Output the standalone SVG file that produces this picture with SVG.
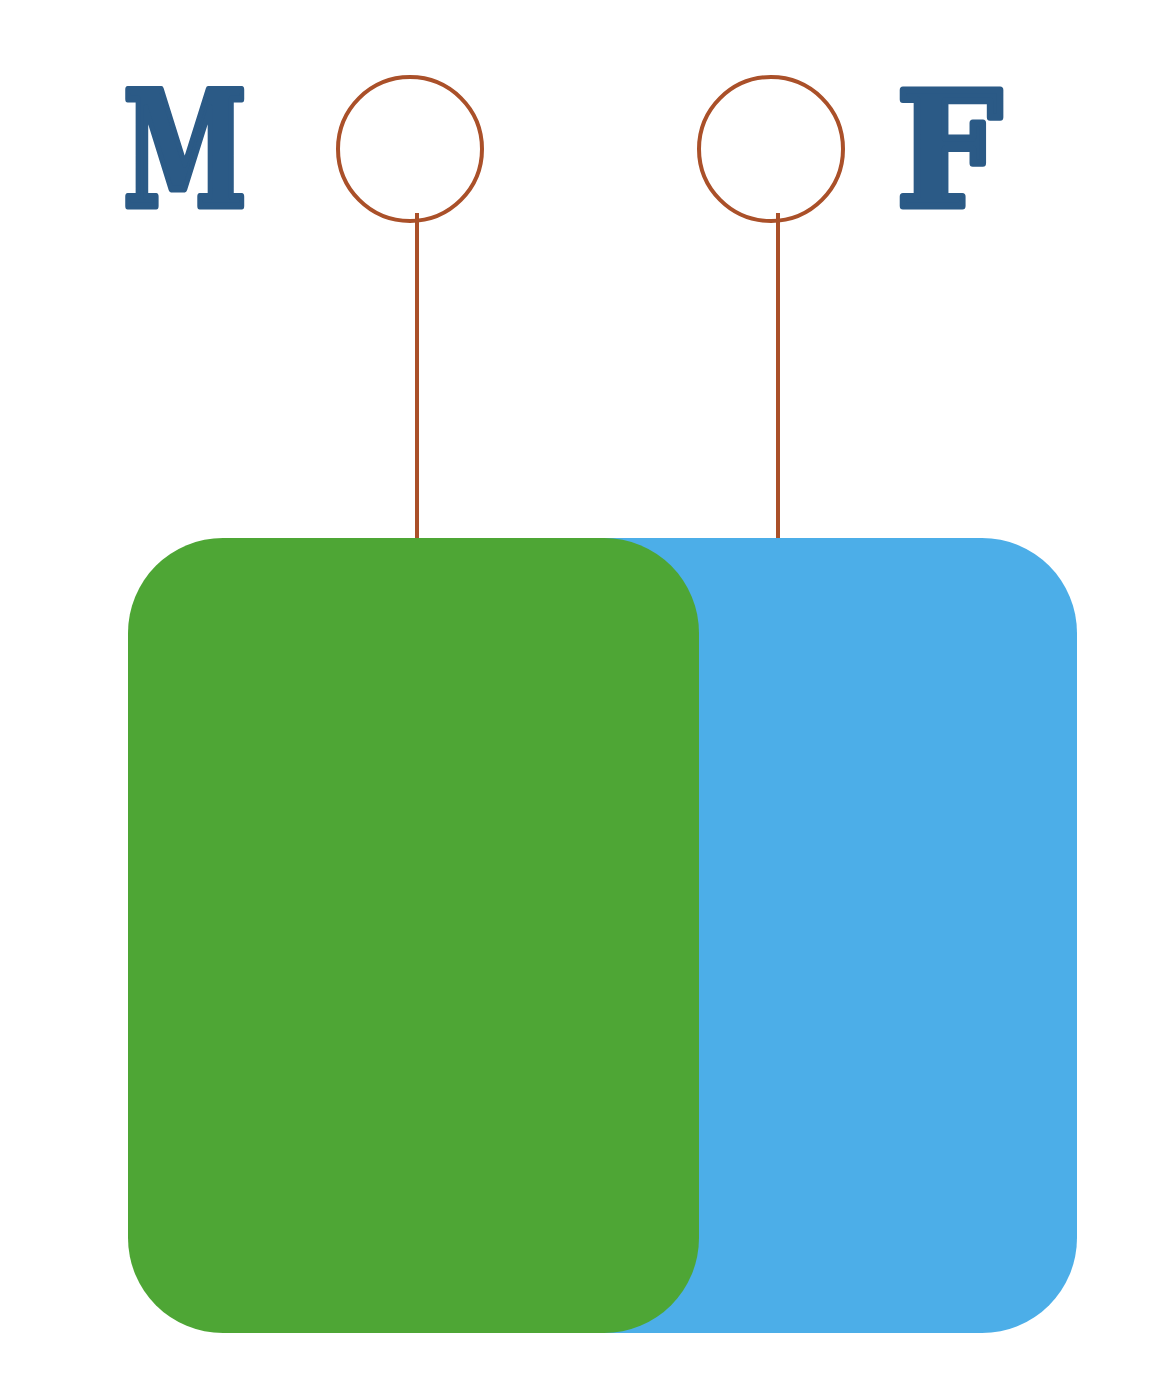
<svg xmlns="http://www.w3.org/2000/svg" width="1154" height="1400" viewBox="0 0 1154 1400">
<style>
.lbl{font-family:"DejaVu Serif","Liberation Serif",serif;font-weight:bold;font-size:160px;fill:#2B5A86;stroke:#2B5A86;stroke-width:7;stroke-linejoin:round}
.ring{fill:none;stroke:#AA5029;stroke-width:4}
.conn{stroke:#AA5029;stroke-width:4;fill:none}
</style>
<rect width="1154" height="1400" fill="#ffffff"/>
<g id="blue-box"><rect x="480" y="538" width="597" height="795" rx="95" ry="95" fill="#4CAEE8"/></g>
<g id="green-box"><rect x="128" y="538" width="571" height="795" rx="95" ry="95" fill="#4EA635"/></g>
<g id="connectors">
<line class="conn" x1="417" y1="213" x2="417" y2="538"/>
<line class="conn" x1="778" y1="213" x2="778" y2="538"/>
</g>
<g id="circle-left"><circle class="ring" cx="410" cy="149" r="72"/></g>
<g id="circle-right"><circle class="ring" cx="771" cy="149" r="72"/></g>
<g id="label-M"><text class="lbl" x="123" y="206" textLength="124" lengthAdjust="spacingAndGlyphs">M</text></g>
<g id="label-F"><text class="lbl" x="896" y="206" textLength="106" lengthAdjust="spacingAndGlyphs">F</text></g>
</svg>
